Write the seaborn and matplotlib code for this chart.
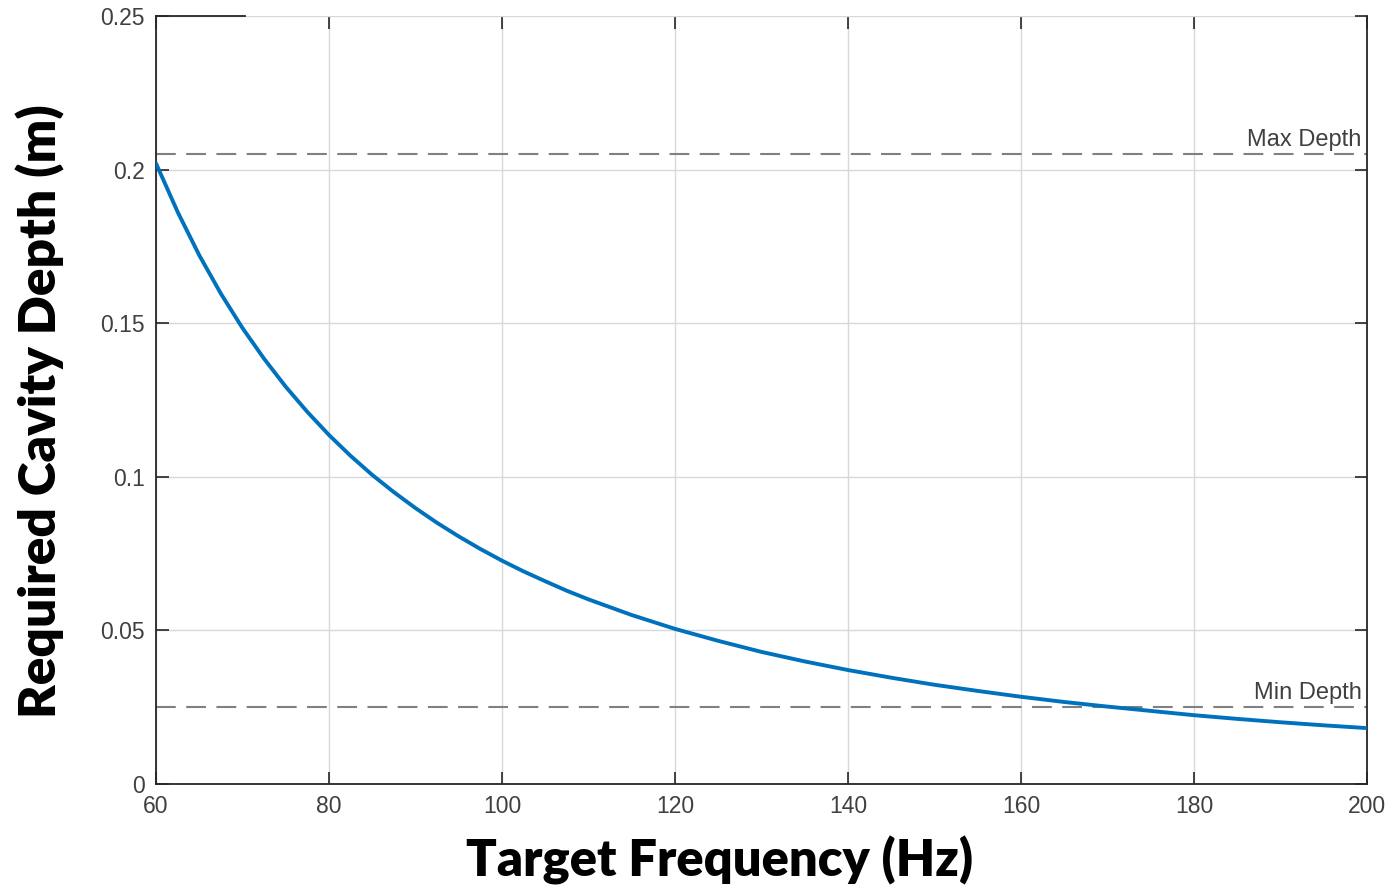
import matplotlib
matplotlib.use("Agg")
import matplotlib.pyplot as plt
import seaborn as sns
import pandas as pd

# values
freq = [60, 62.5, 65, 67.5, 70, 72.5, 75, 77.5, 80, 82.5, 85, 87.5, 90, 92.5,
        95, 97.5, 100, 102.5, 105, 107.5, 110, 115, 120, 125, 130, 135, 140,
        145, 150, 155, 160, 165, 170, 175, 180, 185, 190, 195, 200]
depth = [0.2020, 0.1862, 0.1721, 0.1596, 0.1484, 0.1384, 0.1293, 0.1211,
         0.1136, 0.1068, 0.1006, 0.0950, 0.0898, 0.0850, 0.0806, 0.0765,
         0.0727, 0.0692, 0.0660, 0.0629, 0.0601, 0.0550, 0.0505, 0.0466,
         0.0430, 0.0399, 0.0371, 0.0346, 0.0323, 0.0303, 0.0284, 0.0267,
         0.0252, 0.0238, 0.0224, 0.0212, 0.0201, 0.0191, 0.0182]
max_depth = 0.205
min_depth = 0.025
xticks = [60, 80, 100, 120, 140, 160, 180, 200]
yticks = [0, 0.05, 0.1, 0.15, 0.2, 0.25]
ytick_labels = ["0", "0.05", "0.1", "0.15", "0.2", "0.25"]

df = pd.DataFrame({"Target Frequency (Hz)": freq, "Required Cavity Depth (m)": depth})

sns.set_style("white")
plt.rcParams["font.family"] = ["Liberation Sans", "DejaVu Sans"]

fig = plt.figure(figsize=(13.92, 8.89), dpi=100)
ax = fig.add_axes([0.1121, 0.1181, 0.8699, 0.8639])

sns.lineplot(data=df, x="Target Frequency (Hz)", y="Required Cavity Depth (m)",
             ax=ax, color="#0072BD", linewidth=2.8, zorder=3)

# dashed limit lines with their labels
for val, name in [(max_depth, "Max Depth"), (min_depth, "Min Depth")]:
    ax.axhline(val, color="#808080", linewidth=1.5, dashes=(9.5, 5), zorder=2)
    ax.text(199.4, val + 0.0010, name, ha="right", va="bottom",
            fontsize=17, color="#404040")

ax.set_xlim(60, 200)
ax.set_ylim(0, 0.25)
ax.set_xticks(xticks)
ax.set_yticks(yticks)
ax.set_yticklabels(ytick_labels)
ax.grid(True, color="#d8d8d8", linewidth=1)
ax.tick_params(direction="in", length=9, width=1.2, colors="#262626",
               labelcolor="#404040", labelsize=16.5, top=True, right=True,
               bottom=True, left=True)
ax.tick_params(axis="x", pad=8)
ax.tick_params(axis="y", pad=8)

for s in ax.spines.values():
    s.set_color("#262626")
    s.set_linewidth(1.3)
ax.spines["top"].set_bounds(60, 70.3)

ax.set_xlabel("Target Frequency (Hz)", fontsize=36.5, fontweight="heavy",
              family=["Lato", "DejaVu Sans"], color="black")
ax.set_ylabel("Required Cavity Depth (m)", fontsize=37, fontweight="heavy",
              family=["Lato", "DejaVu Sans"], color="black")
ax.xaxis.set_label_coords(0.4657, -0.099)
ax.yaxis.set_label_coords(-0.0958, 0.486)
ax.xaxis.label.set_va("center")
ax.yaxis.label.set_va("center")

fig.savefig("out.png", dpi=100)
